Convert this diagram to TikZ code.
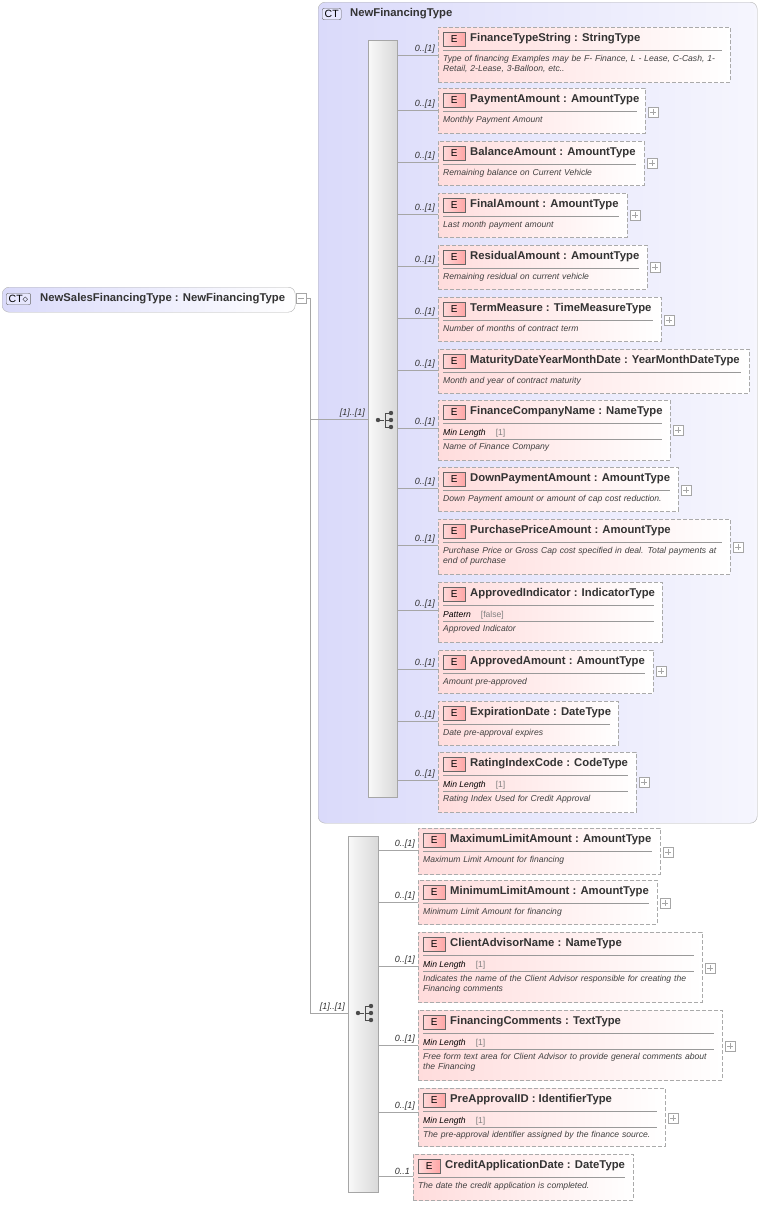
\documentclass[tikz,border=0pt]{standalone}
\usepackage{fontspec}
\setmainfont{Liberation Sans}
\definecolor{ctfill}{RGB}{218,218,250}
\definecolor{elfill}{RGB}{255,220,220}
\definecolor{bord}{RGB}{170,170,170}
\tikzset{
 elbox/.style={draw=bord,dash pattern=on 4pt off 2pt,left color=elfill,right color=white,anchor=north west,inner sep=0pt},
 ebadge/.style={draw=gray!80!black,left color=red!15,right color=red!35,anchor=north west,minimum width=22pt,minimum height=14pt,inner sep=0pt,font=\fontsize{10}{11}\selectfont},
 etitle/.style={anchor=west,inner sep=0pt,font=\bfseries\fontsize{11.3}{12}\selectfont,text=black!80},
 sepl/.style={draw=gray!80},
 desc/.style={anchor=north west,inner sep=0pt,align=left,font=\itshape\fontsize{8.6}{10}\selectfont,text=black!75},
 conn/.style={draw=gray!70},
 mult/.style={anchor=south east,inner sep=1pt,font=\itshape\fontsize{9}{10}\selectfont,text=black!80},
 bar/.style={draw=gray!70,left color=gray!5,right color=gray!30,anchor=north west,inner sep=0pt},
 cticon/.style={draw=gray!80!black,fill=ctfill!80!blue!30,rounded corners=2pt,anchor=west,inner xsep=2.5pt,inner ysep=2pt,font=\fontsize{10.5}{11}\selectfont},
}
\newcommand\el[8]{%
 \node[elbox,minimum width={(#4-#2)*1pt},minimum height={(#5-#3)*1pt}] (#1) at (#2,#3) {};
 \node[ebadge] at (#2+5,#3+5) {E};
 \node[etitle] at (#2+32,#3+11.5) {#6};
 \draw[sepl] (#2+5,#3+23) -- (#4-8,#3+23);
 \if\relax\detokenize{#7}\relax
  \node[desc,text width={(#4-#2-10)*1pt}] at (#2+5,#3+28) {#8};
 \else
  \node[desc,anchor=west] at (#2+5,#3+33) {{\color{black}#7}};
  \draw[sepl] (#2+5,#3+39) -- (#4-8,#3+39);
  \node[desc,text width={(#4-#2-10)*1pt}] at (#2+5,#3+43) {#8};
 \fi}
\newcommand\plusb[2]{\draw[gray!70,fill=white] (#1+3,#2-5) rectangle (#1+13,#2+5);
 \draw[gray!70] (#1+5,#2) -- (#1+11,#2) (#1+8,#2-3) -- (#1+8,#2+3);}
\newcommand\fac[2]{#1\hspace{10pt}{\upshape\color{gray}#2}}
\newcommand\seqicon[2]{\fill[black!70] (#1-7,#2) circle (2.2pt);
 \draw[black!70,line width=0.9pt] (#1-7,#2) -- (#1-1,#2) (#1,#2-7) -- (#1,#2+7) (#1,#2-7) -- (#1+6,#2-7) (#1,#2) -- (#1+6,#2) (#1,#2+7) -- (#1+6,#2+7);
 \fill[black!70] (#1+6,#2-7) circle (2.2pt) (#1+6,#2) circle (2.2pt) (#1+6,#2+7) circle (2.2pt);}
\begin{document}
\begin{tikzpicture}[x=1pt,y=-1pt]
\useasboundingbox (0,0) rectangle (763,1205);
\fill[white] (0,0) rectangle (763,1205);
% CT box
\node[draw=gray!60,rounded corners=7pt,left color=ctfill,right color=ctfill!25,anchor=north west,minimum width=439pt,minimum height=821pt,inner sep=0pt] (ct) at (318,2) {};
\node[cticon] (cticon) at (322,14) {CT};
\node[etitle,anchor=west] (cttitle) at (350,14) {NewFinancingType};
% root
\node[draw=gray!60,rounded corners=7pt,left color=ctfill,right color=white,anchor=north west,minimum width=293pt,minimum height=25pt,inner sep=0pt] (root) at (2,287) {};
\node[cticon] (rooticon) at (6,299) {CT$\diamond$};
\node[etitle] (roottitle) at (40,299) {NewSalesFinancingType : NewFinancingType};
\draw[gray!70,fill=white] (296,293) rectangle (306,303); \draw[gray!70] (298,298) -- (304,298);
% bars
\node[bar,minimum width=29pt,minimum height=757pt] (seqA) at (368,40) {};
\node[bar,minimum width=30pt,minimum height=356pt] (seqB) at (348,836) {};
\seqicon{385}{420}
\seqicon{365}{1013}
% root connectors
\coordinate (j) at (310,298);
\draw[conn] (306,298) -- (j) -- (310,1013) -- (seqB.west |- 0,1013);
\draw[conn] (310,419) -- (seqA.west |- 0,419);
\node[mult] at (366,419) {[1]..[1]};
\node[mult] at (346,1013) {[1]..[1]};
% top elements
\el{e1}{438}{27}{730}{82}{FinanceTypeString : StringType}{}{Type of financing Examples may be F- Finance, L - Lease, C-Cash, 1-Retail, 2-Lease, 3-Balloon, etc..}
\el{e2}{438}{88}{645}{133}{PaymentAmount : AmountType}{}{Monthly Payment Amount}
\el{e3}{438}{141}{644}{185}{BalanceAmount : AmountType}{}{Remaining balance on Current Vehicle}
\el{e4}{438}{193}{627}{237}{FinalAmount : AmountType}{}{Last month payment amount}
\el{e5}{438}{245}{647}{289}{ResidualAmount : AmountType}{}{Remaining residual on current vehicle}
\el{e6}{438}{297}{661}{341}{TermMeasure : TimeMeasureType}{}{Number of months of contract term}
\el{e7}{438}{349}{749}{393}{MaturityDateYearMonthDate : YearMonthDateType}{}{Month and year of contract maturity}
\el{e8}{438}{400}{670}{460}{FinanceCompanyName : NameType}{\fac{Min Length}{[1]}}{Name of Finance Company}
\el{e9}{438}{467}{678}{511}{DownPaymentAmount : AmountType}{}{Down Payment amount or amount of cap cost reduction.}
\el{e10}{438}{519}{730}{574}{PurchasePriceAmount : AmountType}{}{Purchase Price or Gross Cap cost specified in deal. Total payments at end of purchase}
\el{e11}{438}{582}{662}{642}{ApprovedIndicator : IndicatorType}{\fac{Pattern}{[false]}}{Approved Indicator}
\el{e12}{438}{650}{653}{693}{ApprovedAmount : AmountType}{}{Amount pre-approved}
\el{e13}{438}{701}{618}{745}{ExpirationDate : DateType}{}{Date pre-approval expires}
\el{e14}{438}{752}{636}{812}{RatingIndexCode : CodeType}{\fac{Min Length}{[1]}}{Rating Index Used for Credit Approval}
\foreach \n/\y in {e1/55,e2/110,e3/162,e4/214,e5/266,e6/318,e7/370,e8/428,e9/488,e10/545,e11/610,e12/669,e13/721,e14/780}{
 \draw[conn] (seqA.east |- 0,\y) -- (\n.west |- 0,\y);
 \node[mult] at (436,\y) {0..[1]};}
\plusb{645}{112}\plusb{644}{163}\plusb{627}{215}\plusb{647}{267}\plusb{661}{320}\plusb{670}{430}\plusb{678}{490}\plusb{730}{547}\plusb{653}{671}\plusb{636}{782}
% bottom elements
\el{f1}{418}{828}{660}{874}{MaximumLimitAmount : AmountType}{}{Maximum Limit Amount for financing}
\el{f2}{418}{880}{657}{924}{MinimumLimitAmount : AmountType}{}{Minimum Limit Amount for financing}
\el{f3}{418}{932}{702}{1002}{ClientAdvisorName : NameType}{\fac{Min Length}{[1]}}{Indicates the name of the Client Advisor responsible for creating the Financing comments}
\el{f4}{418}{1010}{722}{1080}{FinancingComments : TextType}{\fac{Min Length}{[1]}}{Free form text area for Client Advisor to provide general comments about the Financing}
\el{f5}{418}{1088}{665}{1146}{PreApprovalID : IdentifierType}{\fac{Min Length}{[1]}}{The pre-approval identifier assigned by the finance source.}
\el{f6}{413}{1154}{633}{1200}{CreditApplicationDate : DateType}{}{The date the credit application is completed.}
\foreach \n/\y/\m in {f1/850/{0..[1]},f2/902/{0..[1]},f3/966/{0..[1]},f4/1045/{0..[1]},f5/1112/{0..[1]},f6/1176/{0..1}}{
 \draw[conn] (seqB.east |- 0,\y) -- (\n.west |- 0,\y);
 \node[mult] at ([xshift=-2pt]\n.west |- 0,\y) {\m};}
\plusb{660}{852}\plusb{657}{903}\plusb{702}{968}\plusb{722}{1046}\plusb{665}{1118}
\end{tikzpicture}
\end{document}
